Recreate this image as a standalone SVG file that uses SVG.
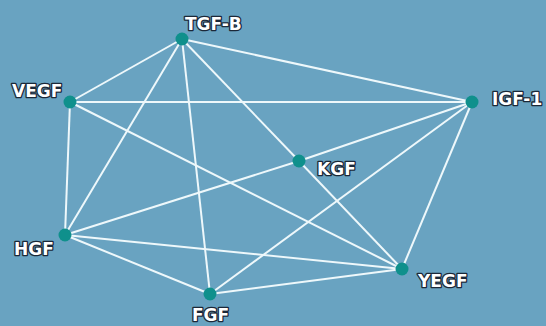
<svg xmlns="http://www.w3.org/2000/svg" width="546" height="326" viewBox="0 0 546 326">
<style>
.bg{fill:#69a3c1}
.e{stroke:#eef8fb;stroke-width:2;fill:none}
.n{fill:#0f908c}
.t{font-family:"DejaVu Sans","Liberation Sans",sans-serif;font-weight:bold;font-size:17px;fill:#ffffff;stroke:#1b2838;stroke-width:2.6;paint-order:stroke;stroke-linejoin:round}
</style>
<rect class="bg" x="0" y="0" width="546" height="326"/>
<g id="connectors">
<line class="e" x1="182" y1="39" x2="472" y2="102"/>
<line class="e" x1="182" y1="39" x2="70" y2="102"/>
<line class="e" x1="182" y1="39" x2="65" y2="235"/>
<line class="e" x1="182" y1="39" x2="210" y2="294"/>
<line class="e" x1="182" y1="39" x2="299" y2="161"/>
<line class="e" x1="299" y1="161" x2="402" y2="269"/>
<line class="e" x1="70" y1="102" x2="472" y2="102"/>
<line class="e" x1="70" y1="102" x2="65" y2="235"/>
<line class="e" x1="70" y1="102" x2="402" y2="269"/>
<line class="e" x1="472" y1="102" x2="299" y2="161"/>
<line class="e" x1="472" y1="102" x2="210" y2="294"/>
<line class="e" x1="472" y1="102" x2="402" y2="269"/>
<line class="e" x1="65" y1="235" x2="299" y2="161"/>
<line class="e" x1="65" y1="235" x2="402" y2="269"/>
<line class="e" x1="65" y1="235" x2="210" y2="294"/>
<line class="e" x1="210" y1="294" x2="402" y2="269"/>
</g>
<g id="tgfb"><circle class="n" cx="182" cy="39" r="6.5"/><text class="t" x="185" y="30">TGF-B</text></g>
<g id="vegf"><circle class="n" cx="70" cy="102" r="6.5"/><text class="t" x="12" y="97">VEGF</text></g>
<g id="igf1"><circle class="n" cx="472" cy="102" r="6.5"/><text class="t" x="492" y="105">IGF-1</text></g>
<g id="kgf"><circle class="n" cx="299" cy="161" r="6.5"/><text class="t" x="317" y="175">KGF</text></g>
<g id="hgf"><circle class="n" cx="65" cy="235" r="6.5"/><text class="t" x="14" y="255">HGF</text></g>
<g id="fgf"><circle class="n" cx="210" cy="294" r="6.5"/><text class="t" x="192" y="321">FGF</text></g>
<g id="yegf"><circle class="n" cx="402" cy="269" r="6.5"/><text class="t" x="418" y="287">YEGF</text></g>
</svg>
